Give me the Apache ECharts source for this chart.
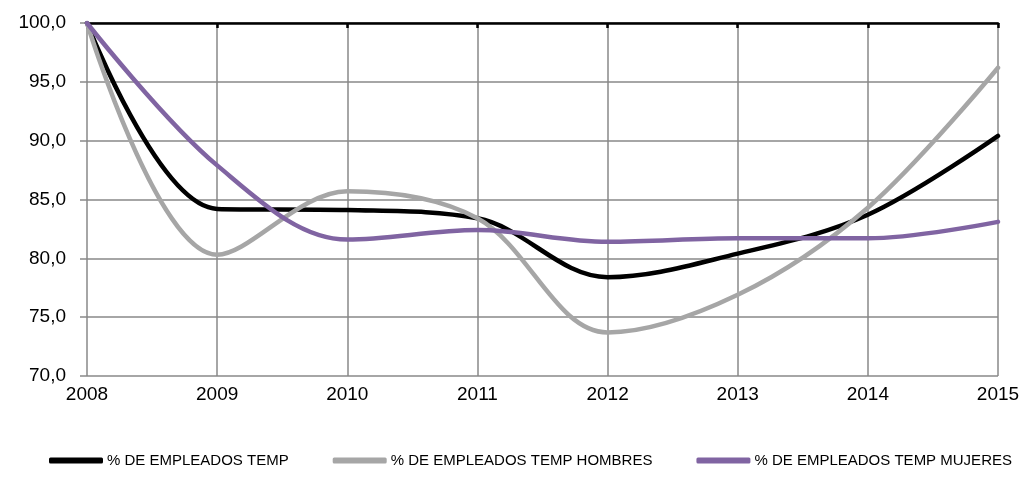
<!DOCTYPE html>
<html>
<head>
<meta charset="utf-8">
<script src="https://cdn.jsdelivr.net/npm/echarts@6/dist/echarts.min.js"></script>
<style>
  html, body { margin: 0; padding: 0; background: #fff; }
  #chart { width: 1025px; height: 477px; }
</style>
</head>
<body>
<div id="chart"></div>
<script>
// datos
var years = ['2008', '2009', '2010', '2011', '2012', '2013', '2014', '2015'];
var temp = [100, 84.2, 84.1, 83.4, 78.4, 80.4, 83.7, 90.4];
var tempHombres = [100, 80.3, 85.7, 83.4, 73.7, 76.9, 84.3, 96.2];
var tempMujeres = [100, 87.9, 81.6, 82.4, 81.4, 81.7, 81.7, 83.1];

var seriesNames = ['% DE EMPLEADOS TEMP', '% DE EMPLEADOS TEMP HOMBRES', '% DE EMPLEADOS TEMP MUJERES'];
var colors = ['#000000', '#a6a6a6', '#8064a2'];

var chart = echarts.init(document.getElementById('chart'));

function line(name, data, color) {
  return {
    name: name,
    type: 'line',
    data: data,
    smooth: 0.35,
    symbol: 'none',
    xAxisIndex: 0,
    lineStyle: { color: color, width: 4.5, cap: 'round' },
    itemStyle: { color: color }
  };
}

var option = {
  animation: false,
  grid: { left: 87, right: 27, top: 23, bottom: 101, containLabel: false },
  legend: {
    bottom: 4,
    left: 44,
    itemGap: 44,
    itemWidth: 54,
    itemHeight: 6,
    icon: 'roundRect',
    textStyle: { fontFamily: 'Liberation Sans', fontSize: 15, color: '#000', padding: [0, 0, 0, -1] },
    data: seriesNames
  },
  xAxis: [
    {
      type: 'category',
      data: years,
      boundaryGap: false,
      position: 'bottom',
      axisLine: { show: false },
      axisTick: { show: false },
      axisLabel: { fontFamily: 'Liberation Sans', fontSize: 19, color: '#000', margin: 9 },
      splitLine: { show: true, lineStyle: { color: '#898989', width: 1.5 } }
    },
    {
      type: 'category',
      data: years,
      boundaryGap: false,
      position: 'top',
      axisLine: { show: true, lineStyle: { color: '#000', width: 2.5 } },
      axisTick: { show: true, inside: true, length: 5, lineStyle: { color: '#000', width: 2.5 } },
      axisLabel: { show: false },
      splitLine: { show: false }
    }
  ],
  yAxis: {
    type: 'value',
    min: 70,
    max: 100,
    interval: 5,
    axisLine: { show: false },
    axisTick: { show: true, length: 7, lineStyle: { color: '#898989', width: 1.5 } },
    axisLabel: {
      fontFamily: 'Liberation Sans', fontSize: 19, color: '#000', margin: 21,
      formatter: function (v) { return v.toFixed(1).replace('.', ','); }
    },
    splitLine: { show: true, lineStyle: { color: '#898989', width: 1.5 } }
  },
  series: [
    line(seriesNames[0], temp, colors[0]),
    line(seriesNames[1], tempHombres, colors[1]),
    line(seriesNames[2], tempMujeres, colors[2])
  ]
};

chart.setOption(option);
</script>
</body>
</html>
